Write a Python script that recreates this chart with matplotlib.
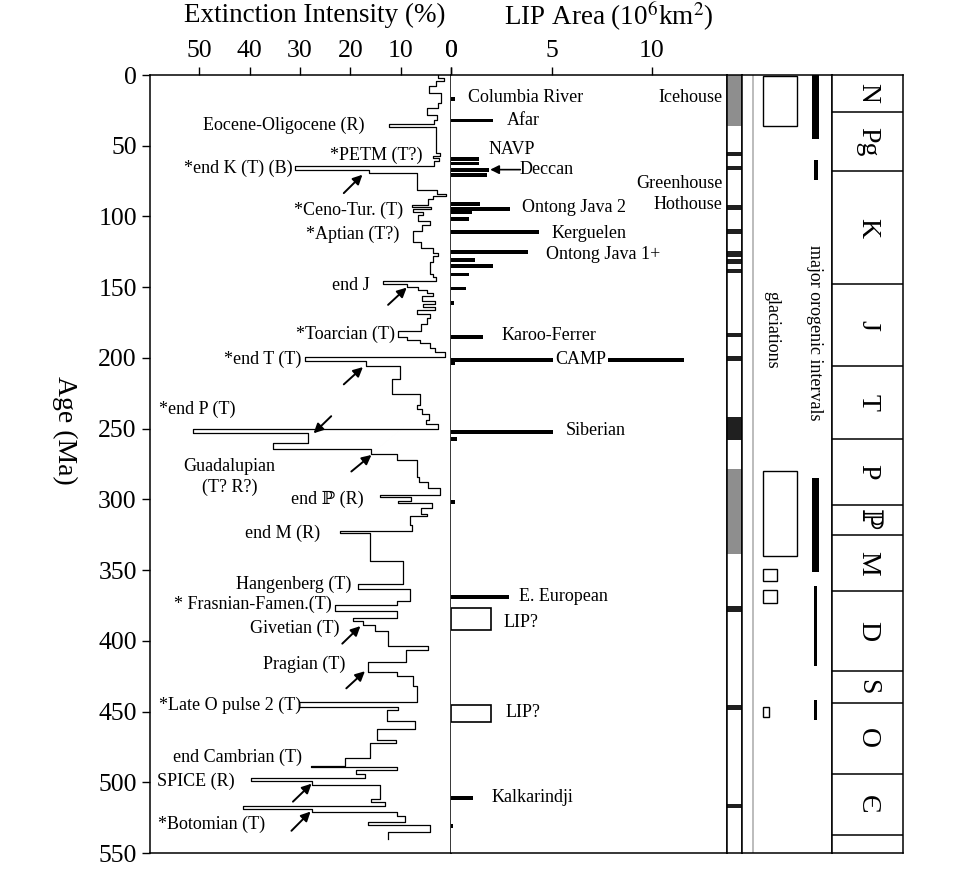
import matplotlib.pyplot as plt
from matplotlib.patches import Rectangle

plt.rcParams['font.family'] = ['Liberation Serif', 'DejaVu Serif', 'DejaVu Sans']
plt.rcParams['mathtext.fontset'] = 'stix'

# extinction intensity: level starts (Ma) and values (%), last age closes the curve
ext_top = [0, 2, 4, 8, 13, 20, 23, 28, 32, 34.5, 36.5, 55, 57, 59, 61, 64.5, 67.5, 69.5,
           81, 84, 85.5, 88, 92, 93.5, 95, 96.5, 99, 103, 106, 110, 118, 122, 126, 128,
           132, 141, 143, 145.7, 147.5, 150, 152, 154, 156, 160, 162, 164, 166, 169, 172,
           176, 180.8, 185.5, 187, 189.5, 193, 196, 199.5, 201.9, 205.5, 214.7, 225.3,
           233.5, 236, 240, 244, 247, 250.3, 252.9, 260.4, 264.6, 268, 272, 284, 288, 292,
           297.1, 298.5, 301, 302.5, 306, 310, 312, 318, 322.4, 324, 343.5, 359.9, 363.4,
           371.6, 375, 378.6, 384, 386, 389, 393, 404, 406.7, 415, 422, 425, 432, 443,
           446.5, 449, 457, 462, 470, 472, 482.8, 488.7, 489.5, 491, 494, 496.9, 499.2,
           502, 512, 514, 516.8, 519.1, 521, 524, 528, 530, 535.5, 540.2]
ext_val = [2.5, 1.3, 3.0, 4.3, 2.0, 2.6, 4.8, 2.8, 3.3, 12.4, 3.0, 2.2, 3.5, 2.4, 3.4, 31,
           16.3, 6.7, 2.8, 1.0, 3.6, 4.6, 7.8, 4.0, 7.5, 5.5, 6.5, 4.2, 5.8, 7.5, 6.0, 3.5,
           2.5, 3.5, 4.2, 3.5, 2.9, 13.5, 8.8, 6.5, 4.8, 3.5, 5.8, 3.2, 5.6, 3.2, 6.7, 4.2,
           4.8, 6.0, 10.5, 8.8, 6.2, 4.2, 3.2, 1.2, 29.1, 16.8, 10.2, 11.8, 6.2, 6.8, 5.8,
           4.3, 5.0, 2.5, 51.3, 28.4, 35.4, 15.8, 10.8, 6.8, 6.4, 4.6, 2.2, 14.1, 8.0, 10.6,
           3.7, 6.0, 4.8, 8.2, 7.8, 22.1, 16.1, 9.5, 18.5, 8.2, 10.8, 23.1, 10.8, 19.5, 17.5,
           15.0, 12.5, 4.5, 9.0, 16.5, 10.8, 7.5, 6.8, 30.1, 10.5, 12.8, 7.2, 14.8, 11.0,
           16.1, 21.1, 27.8, 10.8, 18.8, 17.0, 39.7, 27.6, 14.1, 15.8, 13.1, 41.4, 27.6,
           10.8, 9.2, 16.5, 4.2, 12.5]

ext_labels = ["Eocene-Oligocene (R)", "*PETM (T?)", "*end K (T) (B)", "*Ceno-Tur. (T)",
              "*Aptian (T?)", "end J", "*Toarcian (T)", "*end T (T)", "*end P (T)",
              "end \u2119 (R)", "end M (R)", "Hangenberg (T)", "* Frasnian-Famen.(T)",
              "Givetian (T)", "Pragian (T)", "*Late O pulse 2 (T)", "end Cambrian (T)",
              "SPICE (R)", "*Botomian (T)"]
ext_label_x = [17.1, 5.6, 31.5, 9.6, 10.2, 16.1, 11.2, 29.7, 42.8, 17.3, 26.1, 19.7, 23.7,
               22.1, 20.9, 29.7, 29.7, 43.0, 37.0]
ext_label_age = [35.8, 56.9, 66.0, 95.5, 112.4, 149.0, 183.3, 200.9, 236.7, 300.0, 323.8,
                 360.4, 374.4, 391.3, 416.5, 445.3, 482.6, 499.4, 529.6]

# arrows: (tail %, tail Ma, tip %, tip Ma)
ext_arrows = [(21.3, 83.5, 17.6, 70.5), (12.5, 162.5, 8.8, 150.3), (21.3, 218.7, 17.5, 206.5),
              (23.8, 241.2, 27.3, 253.3), (19.8, 280.3, 15.8, 268.6), (21.6, 402.0, 18.0, 389.6),
              (20.8, 433.6, 17.1, 421.5), (31.4, 513.7, 27.7, 501.0), (31.7, 534.3, 27.9, 520.7)]

# LIP areas (10^6 km^2)
lip_age = [16.9, 32.1, 59.4, 62.6, 67.2, 70.7, 91.1, 94.6, 97.0, 101.6, 111.2, 125.0, 131.0,
           135.0, 141.0, 151.0, 161.0, 185.0, 201.4, 204.0, 252.2, 257.2, 302.1, 368.8,
           511.3, 530.8]
lip_area = [0.2, 2.1, 1.37, 1.37, 1.87, 1.78, 1.42, 2.95, 1.03, 0.9, 4.4, 3.83, 1.2, 2.08,
            0.9, 0.75, 0.15, 1.58, 11.6, 0.2, 5.07, 0.3, 0.2, 2.87, 1.07, 0.08]
lip_uncertain = [(377.0, 392.2, 1.98), (445.3, 457.5, 1.98)]
lip_names = ["Columbia River", "Afar", "NAVP", "Deccan", "Ontong Java 2", "Kerguelen",
             "Ontong Java 1+", "Karoo-Ferrer", "Siberian", "E. European", "LIP?", "LIP?",
             "Kalkarindji"]
lip_name_x = [0.85, 2.8, 1.85, 3.4, 3.55, 5.0, 4.75, 2.5, 5.7, 3.4, 2.6, 2.7, 2.0]
lip_name_age = [16.2, 32.3, 52.7, 66.9, 94.0, 112.4, 127.0, 184.0, 251.5, 368.8, 387.0,
                451.0, 511.0]
climate_names = ["Icehouse", "Greenhouse", "Hothouse"]
climate_age = [16.2, 77.0, 91.3]

# magnetic polarity column
mag_gray = [(0, 36), (278.7, 338.4)]
mag_black = [(54.3, 57.4), (64.1, 67.4), (91.8, 95.3), (108.9, 112.2), (124.1, 128.8),
             (130.4, 133.9), (136.8, 139.8), (182.2, 185.4), (199.0, 202.5), (241.6, 258.0),
             (375.6, 379.3), (445.4, 448.9), (515.1, 518.4)]

# glaciations and orogenic intervals
glaciations = [(0.7, 36, 34), (280, 340, 34), (349, 358, 14), (364, 373, 14), (447, 454, 6)]
orogenies = [(0, 45, 7), (60, 74, 4), (285, 351, 7), (361, 418, 3), (442, 456, 3)]

# geologic periods
period_bounds = [0, 26, 68, 148, 206, 257, 304, 325, 365, 421, 444, 494, 537]
period_names = ["N", "Pg", "K", "J", "T", "P", "\u2119", "M", "D", "S", "O", "\u0404"]

W, H = 960, 869
TOP, BOTTOM = 75, 853
fig = plt.figure(figsize=(W / 100, H / 100), dpi=100)


def panel(x0, x1):
    return [x0 / W, (H - BOTTOM) / H, (x1 - x0) / W, (BOTTOM - TOP) / H]


ax_e = fig.add_axes(panel(150, 451))
ax_l = fig.add_axes(panel(451, 727), sharey=ax_e)
ax_m = fig.add_axes(panel(727, 742), sharey=ax_e)
ax_g = fig.add_axes(panel(742, 832), sharey=ax_e)
ax_p = fig.add_axes(panel(832, 903), sharey=ax_e)

# extinction curve
xs, ys = [], []
for i, v in enumerate(ext_val):
    xs += [v, v]
    ys += [ext_top[i], ext_top[i + 1]]
ax_e.plot(xs, ys, color='k', lw=0.9)
ax_e.set_xlim(59.8, 0)
ax_e.set_ylim(550, 0)
ax_e.set_yticks(range(0, 551, 50))
ax_e.set_xticks([50, 40, 30, 20, 10, 0])
ax_e.xaxis.tick_top()
ax_e.tick_params(axis='both', direction='out', length=6, width=1, labelsize=18.5)
for s, x, a in zip(ext_labels, ext_label_x, ext_label_age):
    ax_e.text(x, a, s, ha='right', va='center', fontsize=13)
ax_e.text(44, 284, "Guadalupian\n(T? R?)", ha='center', va='center', fontsize=13,
          linespacing=1.25)
for tx, ta, hx, ha_ in ext_arrows:
    ax_e.annotate('', xy=(hx, ha_), xytext=(tx, ta),
                  arrowprops=dict(arrowstyle='-|>', color='k', lw=1.4, mutation_scale=14,
                                  shrinkA=0, shrinkB=0))

# LIP panel
ax_l.barh(lip_age, lip_area, height=2.6, color='k')
for a0, a1, w in lip_uncertain:
    ax_l.add_patch(Rectangle((0, a0), w, a1 - a0, fill=False, ec='k', lw=1.2))
for s, x, a in zip(lip_names, lip_name_x, lip_name_age):
    ax_l.text(x, a, s, ha='left', va='center', fontsize=13)
ax_l.text(6.45, 201.2, "CAMP", ha='center', va='center', fontsize=13,
          bbox=dict(fc='white', ec='none', pad=1.5))
ax_l.annotate('', xy=(1.95, 66.9), xytext=(3.45, 66.9),
              arrowprops=dict(arrowstyle='-|>', color='k', lw=1.2, mutation_scale=13,
                              shrinkA=0, shrinkB=0))
for s, a in zip(climate_names, climate_age):
    ax_l.text(13.5, a, s, ha='right', va='center', fontsize=13)
ax_l.set_xlim(0, 13.73)
ax_l.set_xticks([0, 5, 10])
ax_l.xaxis.tick_top()
ax_l.tick_params(axis='x', direction='out', length=6, width=1, labelsize=18.5)
ax_l.tick_params(axis='y', left=False, labelleft=False)
ax_l.spines['left'].set_visible(False)

# polarity column
for a0, a1 in mag_gray:
    ax_m.axhspan(a0, a1, color='#8e8e8e', lw=0)
for a0, a1 in mag_black:
    ax_m.axhspan(a0, a1, color='#202020', lw=0)
ax_m.set_xticks([])
ax_m.tick_params(axis='y', left=False, labelleft=False)

# glaciations / orogenic intervals
for a0, a1, w in glaciations:
    ax_g.add_patch(Rectangle((21, a0), w, a1 - a0, fill=False, ec='k', lw=1.0))
for a0, a1, w in orogenies:
    ax_g.bar(73.5, a1 - a0, bottom=a0, width=w, color='k')
ax_g.axvline(10.5, color='#b0b0b0', lw=1.2)
ax_g.set_xlim(0, 90)
ax_g.text(73, 182, "major orogenic intervals", rotation=-90, ha='center', va='center',
          fontsize=13)
ax_g.text(30, 180, "glaciations", rotation=-90, ha='center', va='center', fontsize=13)
ax_g.set_xticks([])
ax_g.tick_params(axis='y', left=False, labelleft=False)

# periods
for b in period_bounds[1:]:
    ax_p.axhline(b, color='k', lw=1.1)
for i, s in enumerate(period_names):
    mid = (period_bounds[i] + period_bounds[i + 1]) / 2
    ax_p.text(0.5, mid, s, rotation=-90, ha='center', va='center', fontsize=20)
ax_p.set_xlim(0, 1)
ax_p.set_xticks([])
ax_p.tick_params(axis='y', left=False, labelleft=False)

for ax in (ax_e, ax_l, ax_m, ax_g, ax_p):
    for sp in ax.spines.values():
        sp.set_linewidth(1.1)

fig.text(315 / W, 1 - 15 / H, "Extinction Intensity (%)", ha='center', va='center',
         fontsize=19.5)
fig.text(609 / W, 1 - 16 / H, "LIP Area (10$^6$km$^2$)", ha='center', va='center',
         fontsize=19.5)
fig.text(65 / W, 1 - 430 / H, "Age (Ma)", rotation=-90, ha='center', va='center',
         fontsize=20)

fig.savefig('out.png', dpi=100, facecolor='white')
